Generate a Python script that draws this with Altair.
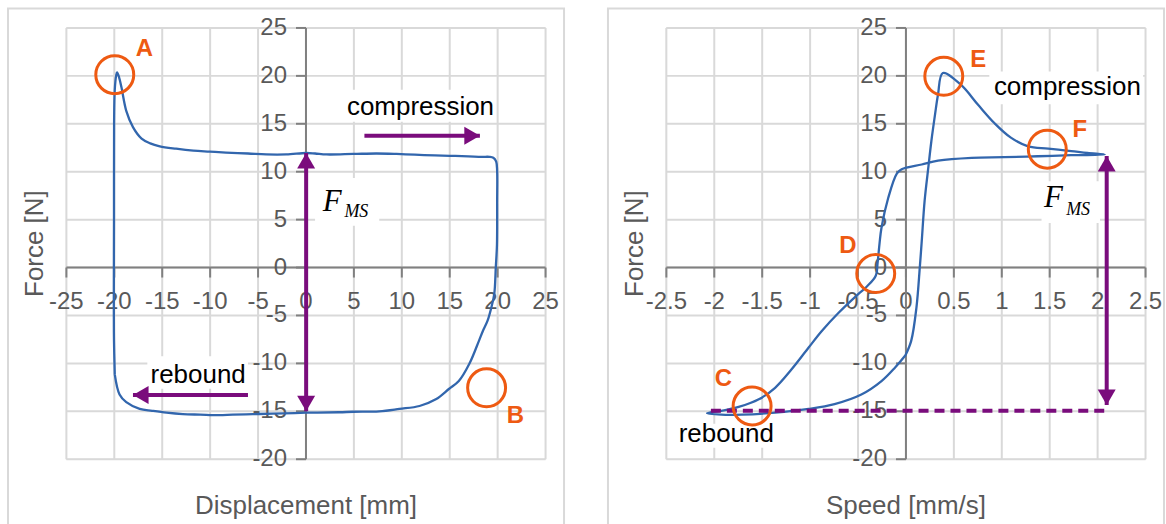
import altair as alt
import pandas as pd

# ---------------- data ----------------
# Force vs. displacement hysteresis loop (one full stroke, closed)
disp_mm = [
    -19.90, -19.98, -20.00, -19.98, -19.97, -19.90, -19.75, -19.66,
    -19.45, -19.20, -18.70, -18.00, -17.10, -16.20, -15.20, -13.50,
    -11.70, -10.00, -8.30, -6.00, -4.10, -2.00, 0.07, 1.00, 2.20,
    5.00, 7.40, 9.50, 11.40, 13.50, 15.30, 17.00, 18.40, 19.20,
    19.60, 19.90, 20.00, 20.00, 19.98, 19.86, 19.70, 19.40, 19.00,
    18.50, 18.10, 17.10, 16.00, 15.00, 13.60, 11.90, 9.80, 7.70,
    5.00, 3.50, 0.07, -3.40, -5.50, -7.60, -9.00, -11.00, -12.80,
    -14.50, -16.00, -17.30, -18.70, -19.40, -19.90,
]
force_disp_n = [
    -11.20, -7.70, -3.60, 5.00, 15.00, 18.50, 20.00, 20.30,
    19.80, 18.75, 16.30, 14.60, 13.40, 12.90, 12.60, 12.35,
    12.15, 12.05, 11.95, 11.85, 11.75, 11.75, 11.90, 11.85, 11.75,
    11.80, 11.85, 11.80, 11.72, 11.65, 11.60, 11.55, 11.50, 11.50,
    11.40, 11.00, 10.00, 6.90, 2.30, 0.00, -2.80, -4.20, -5.60,
    -6.70, -7.70, -10.10, -11.90, -12.70, -13.80, -14.50, -14.80, -15.05,
    -15.10, -15.15, -15.20, -15.30, -15.35, -15.40, -15.45, -15.40, -15.35,
    -15.20, -15.00, -14.80, -14.10, -13.30, -11.20,
]

# Force vs. speed loop (same stroke, closed)
speed_mms = [
    0.00, 0.06, 0.115, 0.15, 0.17, 0.20, 0.24, 0.27, 0.31, 0.34, 0.39,
    0.58, 0.76, 0.93, 1.10, 1.28, 1.49, 1.73, 1.90, 2.08,
    1.73, 1.38, 1.03, 0.69, 0.34, 0.17, -0.04, -0.09, -0.18, -0.25,
    -0.27, -0.29, -0.31, -0.40, -0.49, -0.70, -0.875, -1.01, -1.19,
    -1.36, -1.53, -1.74, -1.92, -2.07,
    -1.92, -1.71, -1.36, -1.01, -0.74, -0.46, -0.25, -0.11, 0.00,
]
force_speed_n = [
    -9.20, -7.70, -4.20, 0.00, 2.70, 6.90, 10.50, 13.10, 16.00, 18.00, 20.25,
    19.00, 16.90, 15.00, 13.50, 12.60, 12.36, 12.10, 11.90, 11.74,
    11.67, 11.56, 11.46, 11.40, 11.10, 10.70, 10.20, 9.75, 7.20, 4.10,
    2.50, 0.50, -0.90, -2.00, -2.80, -4.80, -6.70, -8.40, -10.70,
    -12.60, -13.80, -14.60, -15.00, -15.25,
    -15.40, -15.40, -15.20, -14.80, -14.30, -13.30, -11.90, -10.50, -9.20,
]

disp_ticks = [-25, -20, -15, -10, -5, 0, 5, 10, 15, 20, 25]
speed_ticks = [-2.5, -2, -1.5, -1, -0.5, 0, 0.5, 1, 1.5, 2, 2.5]
force_ticks = [-20, -15, -10, -5, 0, 5, 10, 15, 20, 25]

# marked points (circles) and their letters
disp_marks = ["A", "B"]
disp_mark_x = [-19.9, 18.9]
disp_mark_y = [20.07, -12.6]
disp_letter_x = [-16.8, 21.9]
disp_letter_y = [22.7, -15.5]

speed_marks = ["C", "D", "E", "F"]
speed_mark_x = [-1.6, -0.31, 0.40, 1.48]
speed_mark_y = [-14.5, -0.68, 19.9, 12.3]
speed_letter_x = [-1.9, -0.6, 0.76, 1.82]
speed_letter_y = [-11.7, 2.16, 21.6, 14.3]

# direction labels
stroke_labels = ["compression", "rebound"]
disp_label_x = [12.0, -11.2]
disp_label_y = [15.9, -12.05]
speed_label_x = [1.69, -1.87]
speed_label_y = [18.0, -18.3]

# F_MS labels: main letter and subscript anchors
disp_f_xy = (1.8, 5.9)
disp_ms_xy = (4.06, 5.2)
speed_f_xy = (1.445, 6.28)
speed_ms_xy = (1.677, 5.42)

# white label backgrounds [x0, x1, y0, y1]
disp_boxes = [[3.9, 19.8, 15.15, 18.5], [1.0, 7.7, 4.3, 9.3], [-16.5, -6.0, -12.7, -9.3]]
speed_boxes = [[0.875, 2.48, 17.0, 20.4], [1.42, 2.03, 4.6, 8.95], [-2.42, -1.33, -18.85, -16.35]]

# arrows: [x_start, x_end, y_start, y_end, heads]
disp_arrows = [
    [6.15, 18.2, 13.7, 13.7, "end"],       # compression direction
    [-6.0, -18.0, -13.36, -13.36, "end"],  # rebound direction
    [0.07, 0.07, -15.05, 11.9, "both"],    # F_MS
]
speed_arrows = [
    [2.1, 2.1, -14.4, 11.6, "both"],       # F_MS
]
speed_dashed = [-2.03, 2.12, -15.0]        # rebound force level

# ---------------- styling ----------------
BLUE = "#3266ad"
ORANGE = "#ee5a12"
PURPLE = "#7a0c7c"
GRID = "#d9d9d9"
AXIS = "#808080"
LABEL = "#595959"
W, H = 480, 432

HEAD = {
    "up": "M0,0L-1,1.732L1,1.732Z",
    "down": "M0,0L-1,-1.732L1,-1.732Z",
    "left": "M0,0L1.732,-1L1.732,1Z",
    "right": "M0,0L-1.732,-1L-1.732,1Z",
}


def make_axis(values, title, orient):
    common = dict(
        values=values, title=title, grid=True, gridColor=GRID, gridWidth=2,
        domainColor=AXIS, domainWidth=2, tickColor=AXIS, tickWidth=2, tickSize=10,
        labelFont="Liberation Sans", labelFontSize=24, labelColor=LABEL,
        labelFlush=False, labelOverlap=False, labelExpr="toString(datum.value)",
        titleFont="Liberation Sans", titleFontSize=26, titleColor=LABEL,
        titleFontWeight="normal", titleBaseline="alphabetic", titleAlign="center",
    )
    if orient == "x":
        return alt.Axis(offset=-H * 20 / 45, labelPadding=13,
                        titleX=W / 2, titleY=246.7, **common)
    return alt.Axis(offset=-W / 2, labelPadding=9, titleAngle=270,
                    titleX=-263.5, titleY=H / 2, **common)


def panel(xs, ys, x_dom, x_ticks, x_title, mk, mx, my, lx, ly,
          lab_x, lab_y, f_xy, ms_xy, boxes, arrows, dashed=None):
    xscale = alt.Scale(domain=x_dom, nice=False, zero=False)
    yscale = alt.Scale(domain=[-20, 25], nice=False, zero=False)
    xax = make_axis(x_ticks, x_title, "x")
    yax = make_axis(force_ticks, "Force [N]", "y")

    def X(f):
        return alt.X(f, type="quantitative", scale=xscale, axis=xax)

    def Y(f):
        return alt.Y(f, type="quantitative", scale=yscale, axis=yax)

    layers = []
    frame = alt.Chart(alt.Data(values=[{"f": 1}])).mark_rect(
        fill="white", fillOpacity=0, stroke=GRID, strokeWidth=2
    ).encode(x=alt.value(-58), x2=alt.value(499), y=alt.value(-19), y2=alt.value(560))
    layers.append(frame)

    bdf = pd.DataFrame(boxes, columns=["x0", "x1", "y0", "y1"])
    layers.append(alt.Chart(bdf).mark_rect(color="white").encode(
        x=X("x0"), x2="x1", y=Y("y0"), y2="y1"))

    ldf = pd.DataFrame({"x": xs, "y": ys, "i": range(len(xs))})
    layers.append(alt.Chart(ldf).mark_line(
        color=BLUE, strokeWidth=2.3, interpolate="catmull-rom").encode(
        x=X("x"), y=Y("y"), order="i:Q"))

    if dashed is not None:
        ddf = pd.DataFrame([dashed], columns=["x0", "x1", "y"])
        layers.append(alt.Chart(ddf).mark_rule(
            color=PURPLE, strokeWidth=4, strokeDash=[10, 6]).encode(
            x=X("x0"), x2="x1", y=Y("y")))

    adf = pd.DataFrame(arrows, columns=["x0", "x1", "y0", "y1", "heads"])
    layers.append(alt.Chart(adf).mark_rule(color=PURPLE, strokeWidth=4).encode(
        x=X("x0"), x2="x1", y=Y("y0"), y2="y1"))

    heads = {"up": [], "down": [], "left": [], "right": []}
    for x0, x1, y0, y1, kind in arrows:
        if x0 == x1:
            heads["up" if y1 > y0 else "down"].append((x1, y1))
            if kind == "both":
                heads["down" if y1 > y0 else "up"].append((x0, y0))
        else:
            heads["right" if x1 > x0 else "left"].append((x1, y1))
            if kind == "both":
                heads["left" if x1 > x0 else "right"].append((x0, y0))
    for d, pts in heads.items():
        if not pts:
            continue
        hdf = pd.DataFrame(pts, columns=["x", "y"])
        layers.append(alt.Chart(hdf).mark_point(
            shape=HEAD[d], filled=True, size=324, color=PURPLE, opacity=1,
            strokeWidth=0).encode(x=X("x"), y=Y("y")))

    cdf = pd.DataFrame({"name": mk, "x": mx, "y": my, "lx": lx, "ly": ly})
    layers.append(alt.Chart(cdf).mark_point(
        shape="circle", filled=False, size=1444, strokeWidth=3, color=ORANGE,
        opacity=1).encode(x=X("x"), y=Y("y")))
    layers.append(alt.Chart(cdf).mark_text(
        font="Liberation Sans", fontSize=24, fontWeight="bold", color=ORANGE,
        align="center", baseline="middle").encode(x=X("lx"), y=Y("ly"), text="name"))

    tdf = pd.DataFrame({"t": stroke_labels, "x": lab_x, "y": lab_y})
    layers.append(alt.Chart(tdf).mark_text(
        font="Liberation Sans", fontSize=26, color="black", align="center",
        baseline="alphabetic").encode(x=X("x"), y=Y("y"), text="t"))

    fdf = pd.DataFrame({"t": ["F"], "x": [f_xy[0]], "y": [f_xy[1]]})
    layers.append(alt.Chart(fdf).mark_text(
        font="Liberation Serif", fontStyle="italic", fontSize=31, color="black",
        align="left", baseline="alphabetic").encode(x=X("x"), y=Y("y"), text="t"))
    sdf = pd.DataFrame({"t": ["MS"], "x": [ms_xy[0]], "y": [ms_xy[1]]})
    layers.append(alt.Chart(sdf).mark_text(
        font="Liberation Serif", fontStyle="italic", fontSize=18, color="black",
        align="left", baseline="alphabetic").encode(x=X("x"), y=Y("y"), text="t"))

    return alt.layer(*layers).properties(width=W, height=H)


left = panel(disp_mm, force_disp_n, [-25, 25], disp_ticks, "Displacement [mm]",
             disp_marks, disp_mark_x, disp_mark_y, disp_letter_x, disp_letter_y,
             disp_label_x, disp_label_y, disp_f_xy, disp_ms_xy, disp_boxes, disp_arrows)
right = panel(speed_mms, force_speed_n, [-2.5, 2.5], speed_ticks, "Speed [mm/s]",
              speed_marks, speed_mark_x, speed_mark_y, speed_letter_x, speed_letter_y,
              speed_label_x, speed_label_y, speed_f_xy, speed_ms_xy, speed_boxes,
              speed_arrows, dashed=speed_dashed)

chart = alt.hconcat(left, right, spacing=40).properties(
    padding={"left": 6, "top": 6, "right": 0, "bottom": 0}
).configure_view(strokeWidth=0).configure(font="Liberation Sans")

chart.save("out.html", embed_options={"renderer": "svg", "actions": False})
